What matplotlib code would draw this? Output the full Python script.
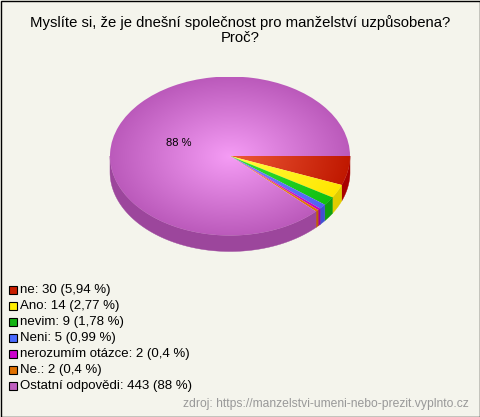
import matplotlib
matplotlib.use('Agg')
import matplotlib.pyplot as plt
import numpy as np
from matplotlib.patches import Wedge, Polygon, Rectangle
from matplotlib.transforms import Affine2D
from matplotlib.colors import to_rgb

plt.rcParams['font.family'] = ['Liberation Sans', 'DejaVu Sans']

# === data ===
labels = ['ne', 'Ano', 'nevim', 'Neni', 'nerozumím otázce', 'Ne.', 'Ostatní odpovědi']
counts = [30, 14, 9, 5, 2, 2, 443]
pct_text = ['5,94 %', '2,77 %', '1,78 %', '0,99 %', '0,4 %', '0,4 %', '88 %']

# colors: top face (centre, edge), side, legend box
top_inner = ['#ee5a38', '#ffff40', '#36e036', '#7484ff', '#e040e0', '#f09030', '#f59cf5']
top_outer = ['#c01800', '#ffe600', '#10c010', '#5062f4', '#c000c0', '#e07000', '#bb5abb']
side_cols = ['#a80000', '#e0cc00', '#10a010', '#4050d0', '#a000a0', '#c06000', '#9c469c']
box_cols = ['#c81e00', '#ffee00', '#14b414', '#4a6aff', '#cc00cc', '#e07000', '#c060c0']

title1 = 'Myslíte si, že je dnešní společnost pro manželství uzpůsobena?'
title2 = 'Proč?'
source = 'zdroj: https://manzelstvi-umeni-nebo-prezit.vyplnto.cz'

W, H = 480, 417
fig = plt.figure(figsize=(W / 100, H / 100), dpi=100)
fig.patch.set_facecolor('#f4f4ec')
ax = fig.add_axes([0, 0, 1, 1])
ax.set_xlim(0, W)
ax.set_ylim(H, 0)
ax.axis('off')

# pie geometry (pixels)
cx, cy, rx, ry = 230, 156, 120, 79.5
depth = 16 / ry
tr = Affine2D().scale(rx, -ry).translate(cx, cy) + ax.transData

total = sum(counts)
cum = np.concatenate([[0], np.cumsum(counts)]) / total
# clockwise from 3 o'clock -> negative math angles
angles = [(-cum[i + 1] * 360, -cum[i] * 360) for i in range(len(counts))]

# --- sides (front half only: -180..0) ---
for (a1, a2), sc in zip(angles, side_cols):
    lo, hi = max(a1, -180), min(a2, 0)
    if hi <= lo:
        continue
    t = np.radians(np.linspace(lo, hi, 80))
    top = np.column_stack([np.cos(t), np.sin(t)])
    bot = top[::-1] - [0, depth]
    ax.add_patch(Polygon(np.vstack([top, bot]), closed=True, facecolor=sc,
                         edgecolor=sc, lw=0.3, transform=tr))

# --- top faces with radial gradient ---
n = 300
gx, gy = np.meshgrid(np.linspace(-1, 1, n), np.linspace(-1, 1, n))
rr = np.clip(np.sqrt(gx ** 2 + gy ** 2), 0, 1)[..., None]
for (a1, a2), ci, co in zip(angles, top_inner, top_outer):
    w = Wedge((0, 0), 1, a1, a2, transform=tr, facecolor='none', edgecolor='none')
    ax.add_patch(w)
    img = np.array(to_rgb(ci)) * (1 - rr) + np.array(to_rgb(co)) * rr
    im = ax.imshow(img, extent=[cx - rx, cx + rx, cy + ry, cy - ry],
                   origin='upper', interpolation='bilinear', zorder=2)
    im.set_clip_path(w)

ax.set_xlim(0, W)
ax.set_ylim(H, 0)

# slice label (only large slices)
for (a1, a2), c, p in zip(angles, counts, pct_text):
    if c / total > 0.1:
        mid = np.radians((a1 + a2) / 2)
        lx, ly = tr.transform((0.47 * np.cos(mid), 0.47 * np.sin(mid)))
        lx, ly = ax.transData.inverted().transform((lx, ly))
        ax.text(lx + 1, ly + 1, p, ha='center', va='center', fontsize=8, zorder=5)

# title
ax.text(240, 27, title1, ha='center', va='baseline', fontsize=10.7)
ax.text(240, 42, title2, ha='center', va='baseline', fontsize=10.7)

# legend
for i, (lab, c, p) in enumerate(zip(labels, counts, pct_text)):
    y = 289.5 + 16 * i
    ax.add_patch(Rectangle((9, y - 4), 8, 8, facecolor=box_cols[i],
                           edgecolor='black', lw=0.8, zorder=4))
    ax.text(20, y, f'{lab}: {c} ({p})', ha='left', va='center', fontsize=9.5)

# source
ax.text(469, 407, source, ha='right', va='baseline', fontsize=8.7, color='#999999')

# border
ax.add_patch(Rectangle((0.5, 0.5), W - 1, H - 1, facecolor='none',
                       edgecolor='black', lw=1, zorder=10))

fig.savefig('out.png', dpi=100, facecolor=fig.get_facecolor())
